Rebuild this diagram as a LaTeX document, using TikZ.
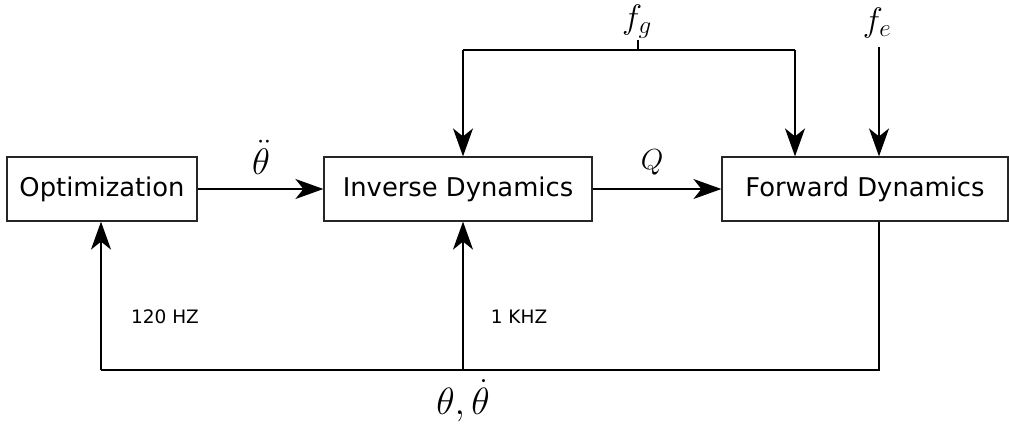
\RequirePackage{fix-cm}
\documentclass[tikz,border=0pt]{standalone}
\usepackage{fontspec}
\setsansfont{DejaVu Sans}
\usetikzlibrary{arrows.meta}
\newcommand{\bigsub}[1]{\mbox{\fontsize{25}{28}\selectfont$#1$}}
\begin{document}
\begin{tikzpicture}[x=1pt,y=-1pt,
  blockbox/.style={draw=black!85,line width=1.2pt,minimum height=64pt,inner sep=0pt,
    font=\sffamily\fontsize{25.8}{30}\selectfont},
  arr/.style={line width=2pt,-{Stealth[length=28pt,width=20pt,inset=8pt]}},
  wire/.style={line width=2pt},
  mlabel/.style={inner sep=0pt,font=\fontsize{34}{38}\selectfont},
  rlabel/.style={inner sep=0pt,font=\sffamily\fontsize{18.5}{22}\selectfont}]
\useasboundingbox (0,0) rectangle (1009,426);
\node[blockbox,minimum width=190pt] (opt) at (102,189) {Optimization};
\node[blockbox,minimum width=268pt] (inv) at (458,189) {Inverse Dynamics};
\node[blockbox,minimum width=286pt] (fwd) at (865,189) {Forward Dynamics};
\draw[arr] (opt) -- (inv);
\draw[arr] (inv) -- (fwd);
\node[mlabel,font=\fontsize{37}{42}\selectfont] (tdd) at (261,157) {$\ddot\theta$};
\node[mlabel,font=\fontsize{29}{32}\selectfont] (q) at (652,162) {$Q$};
% f_g branch
\node[mlabel] (fg) at (637,22) {$f_{\bigsub{g}}$};
\coordinate (fgj) at (638,50);
\coordinate (fgl) at (463,50);
\coordinate (fgr) at (795,50);
\draw[line width=1.2pt] (fgj) -- ++(0,-10);
\draw[wire] (fgl) -- (fgr);
\draw[arr] (fgl) -- (fgl |- inv.north);
\draw[arr] (fgr) -- (fgr |- fwd.north);
% f_e
\node[mlabel] (fe) at (877,23) {$f_{\bigsub{e}}$};
\coordinate (fet) at (879,47);
\draw[arr] (fet) -- (fet |- fwd.north);
% feedback
\coordinate (fb) at (879,370);
\coordinate (bl) at (101,370);
\coordinate (bm) at (463,370);
\draw[wire] (fb |- fwd.south) -- (fb) -- (bl);
\draw[arr] (bl) -- (bl |- opt.south);
\draw[arr] (bm) -- (bm |- inv.south);
\node[rlabel] (r1) at (165,317) {120 HZ};
\node[rlabel] (r2) at (519,317) {1 KHZ};
\node[mlabel,font=\fontsize{38}{42}\selectfont] (th) at (463,401) {$\theta,\dot\theta$};
\end{tikzpicture}
\end{document}
